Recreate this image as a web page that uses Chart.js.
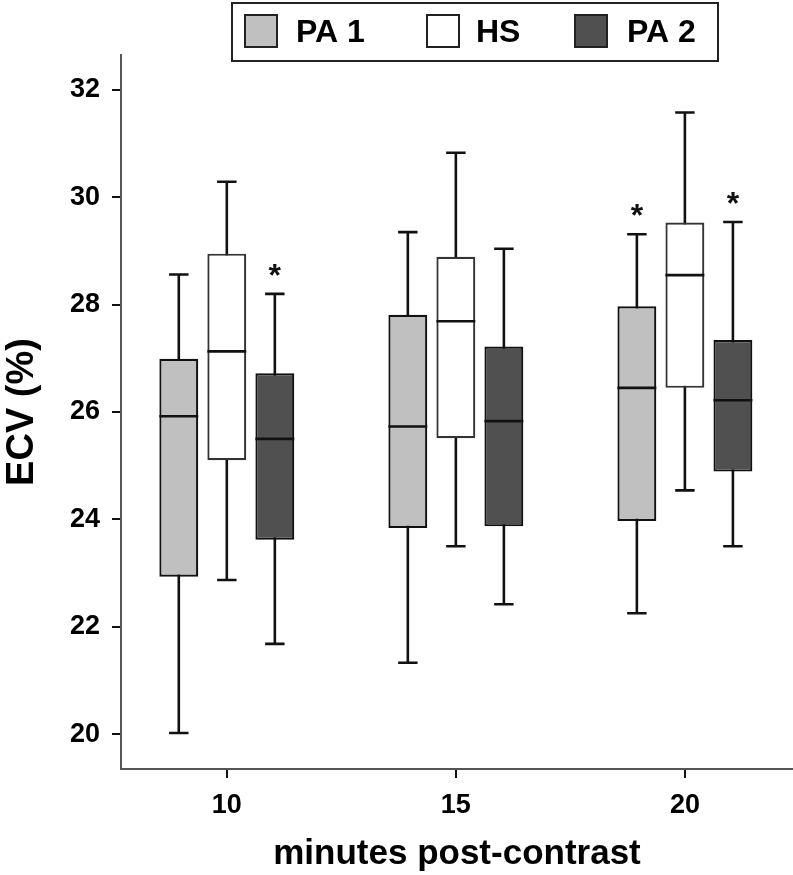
<!DOCTYPE html>
<html>
<head>
<meta charset="utf-8">
<script src="https://cdn.jsdelivr.net/npm/chart.js@4/dist/chart.umd.min.js"></script>
<style>
  html, body { margin: 0; padding: 0; background: #fff; }
  #wrap { width: 793px; height: 875px; }
</style>
</head>
<body>
<div id="wrap"><canvas id="ecvChart" width="793" height="875"></canvas></div>
<script>
// minutes post-contrast
var minutes = [10, 15, 20];
var yTicks = [20, 22, 24, 26, 28, 30, 32];

// PA 1
var pa1Min = [20.02, 21.33, 22.25];
var pa1Q1 = [22.93, 23.84, 23.97];
var pa1Median = [25.92, 25.73, 26.45];
var pa1Q3 = [26.99, 27.81, 27.97];
var pa1Max = [28.56, 29.35, 29.31];
var pa1Star = [false, false, true];

// HS
var hsMin = [22.87, 23.50, 24.54];
var hsQ1 = [25.10, 25.51, 26.45];
var hsMedian = [27.13, 27.69, 28.55];
var hsQ3 = [28.95, 28.89, 29.53];
var hsMax = [30.29, 30.83, 31.58];
var hsStar = [false, false, false];

// PA 2
var pa2Min = [21.68, 22.42, 23.50];
var pa2Q1 = [23.62, 23.87, 24.89];
var pa2Median = [25.50, 25.83, 26.22];
var pa2Q3 = [26.72, 27.22, 27.34];
var pa2Max = [28.20, 29.04, 29.54];
var pa2Star = [true, false, true];

var FONT = "'Liberation Sans', Arial, Helvetica, sans-serif";

function boxes(q1, q3) {
    return q1.map(function (v, i) { return { x: minutes[i], y: [v, q3[i]] }; });
}

var extras = [
    { min: pa1Min, median: pa1Median, max: pa1Max, star: pa1Star },
    { min: hsMin, median: hsMedian, max: hsMax, star: hsStar },
    { min: pa2Min, median: pa2Median, max: pa2Max, star: pa2Star }
];

var boxPlotPlugin = {
    id: "boxPlot",
    beforeDatasetsDraw: function (chart) {
        // whiskers and caps, drawn under the boxes
        var ctx = chart.ctx;
        var y = chart.scales.y;
        ctx.save();
        ctx.strokeStyle = "#111";
        ctx.lineWidth = 2.6;
        extras.forEach(function (ex, di) {
            chart.getDatasetMeta(di).data.forEach(function (bar, i) {
                var half = bar.width / 4;
                var yMin = y.getPixelForValue(ex.min[i]);
                var yMax = y.getPixelForValue(ex.max[i]);
                ctx.beginPath();
                ctx.moveTo(bar.x, yMin);
                ctx.lineTo(bar.x, yMax);
                ctx.moveTo(bar.x - half, yMin);
                ctx.lineTo(bar.x + half, yMin);
                ctx.moveTo(bar.x - half, yMax);
                ctx.lineTo(bar.x + half, yMax);
                ctx.stroke();
            });
        });
        ctx.restore();
    },
    afterDatasetsDraw: function (chart) {
        // medians and significance stars
        var ctx = chart.ctx;
        var y = chart.scales.y;
        ctx.save();
        ctx.strokeStyle = "#111";
        ctx.lineWidth = 2.6;
        ctx.fillStyle = "#111";
        ctx.font = "bold 32px " + FONT;
        ctx.textAlign = "center";
        ctx.textBaseline = "alphabetic";
        extras.forEach(function (ex, di) {
            chart.getDatasetMeta(di).data.forEach(function (bar, i) {
                var half = bar.width / 2;
                var yMed = y.getPixelForValue(ex.median[i]);
                ctx.beginPath();
                ctx.moveTo(bar.x - half, yMed);
                ctx.lineTo(bar.x + half, yMed);
                ctx.stroke();
                if (ex.star[i]) {
                    ctx.fillText("*", bar.x, y.getPixelForValue(ex.max[i]) - 8);
                }
            });
        });
        ctx.restore();
    },
    afterDraw: function (chart) {
        // legend in a framed box above the plot
        var ctx = chart.ctx;
        ctx.save();
        ctx.fillStyle = "#fff";
        ctx.fillRect(232, 3, 486, 58);
        ctx.strokeStyle = "#222";
        ctx.lineWidth = 2;
        ctx.strokeRect(232, 3, 486, 58);
        var items = [
            { sx: 245, tx: 296 },
            { sx: 427, tx: 476 },
            { sx: 575, tx: 627 }
        ];
        ctx.font = "bold 32px " + FONT;
        ctx.textBaseline = "middle";
        ctx.textAlign = "left";
        chart.data.datasets.forEach(function (ds, i) {
            var it = items[i];
            ctx.fillStyle = ds.backgroundColor;
            ctx.fillRect(it.sx, 15, 32, 32);
            ctx.strokeStyle = "#222";
            ctx.lineWidth = 2;
            ctx.strokeRect(it.sx, 15, 32, 32);
            ctx.fillStyle = "#000";
            ctx.fillText(ds.label, it.tx, 33);
        });
        ctx.restore();
    }
};

document.addEventListener("DOMContentLoaded", function () {
    var ctx = document.getElementById("ecvChart").getContext("2d");
    var common = {
        borderColor: "#111",
        borderWidth: 2.2,
        borderSkipped: false,
        categoryPercentage: 0.629,
        barPercentage: 0.81
    };
    new Chart(ctx, {
        type: "bar",
        data: {
            datasets: [
                Object.assign({ label: "PA 1", data: boxes(pa1Q1, pa1Q3), backgroundColor: "#c0c0c0" }, common),
                Object.assign({ label: "HS", data: boxes(hsQ1, hsQ3), backgroundColor: "#ffffff" }, common, { borderColor: "#333" }),
                Object.assign({ label: "PA 2", data: boxes(pa2Q1, pa2Q3), backgroundColor: "#505050" }, common)
            ]
        },
        options: {
            responsive: false,
            animation: false,
            layout: { padding: { top: 55, right: 0, left: 0, bottom: 0 } },
            plugins: {
                legend: { display: false },
                tooltip: { enabled: false }
            },
            scales: {
                x: {
                    type: "linear",
                    min: 7.69,
                    max: 22.36,
                    offset: false,
                    afterBuildTicks: function (scale) {
                        scale.ticks = minutes.map(function (v) { return { value: v }; });
                    },
                    grid: { display: true, drawOnChartArea: false, offset: false, tickLength: 9, color: "#111", lineWidth: 2 },
                    border: { display: true, color: "#555", width: 2 },
                    ticks: { color: "#000", font: { family: FONT, size: 27, weight: "bold" }, padding: 11 },
                    title: {
                        display: true,
                        text: "minutes post-contrast",
                        color: "#000",
                        font: { family: FONT, size: 35, weight: "bold" },
                        padding: { top: 0, bottom: 0 }
                    },
                    afterFit: function (scale) { scale.height = 106; }
                },
                y: {
                    min: 19.35,
                    max: 32.65,
                    afterBuildTicks: function (scale) {
                        scale.ticks = yTicks.map(function (v) { return { value: v }; });
                    },
                    grid: { display: true, drawOnChartArea: false, tickLength: 9, color: "#111", lineWidth: 2 },
                    border: { display: true, color: "#555", width: 2 },
                    ticks: { color: "#000", font: { family: FONT, size: 27, weight: "bold" }, padding: 12 },
                    title: {
                        display: true,
                        text: "ECV (%)",
                        color: "#000",
                        font: { family: FONT, size: 38, weight: "bold" },
                        padding: { top: 0, bottom: 0 }
                    },
                    afterFit: function (scale) { scale.width = 121; }
                }
            }
        },
        plugins: [boxPlotPlugin]
    });
});
</script>
</body>
</html>
